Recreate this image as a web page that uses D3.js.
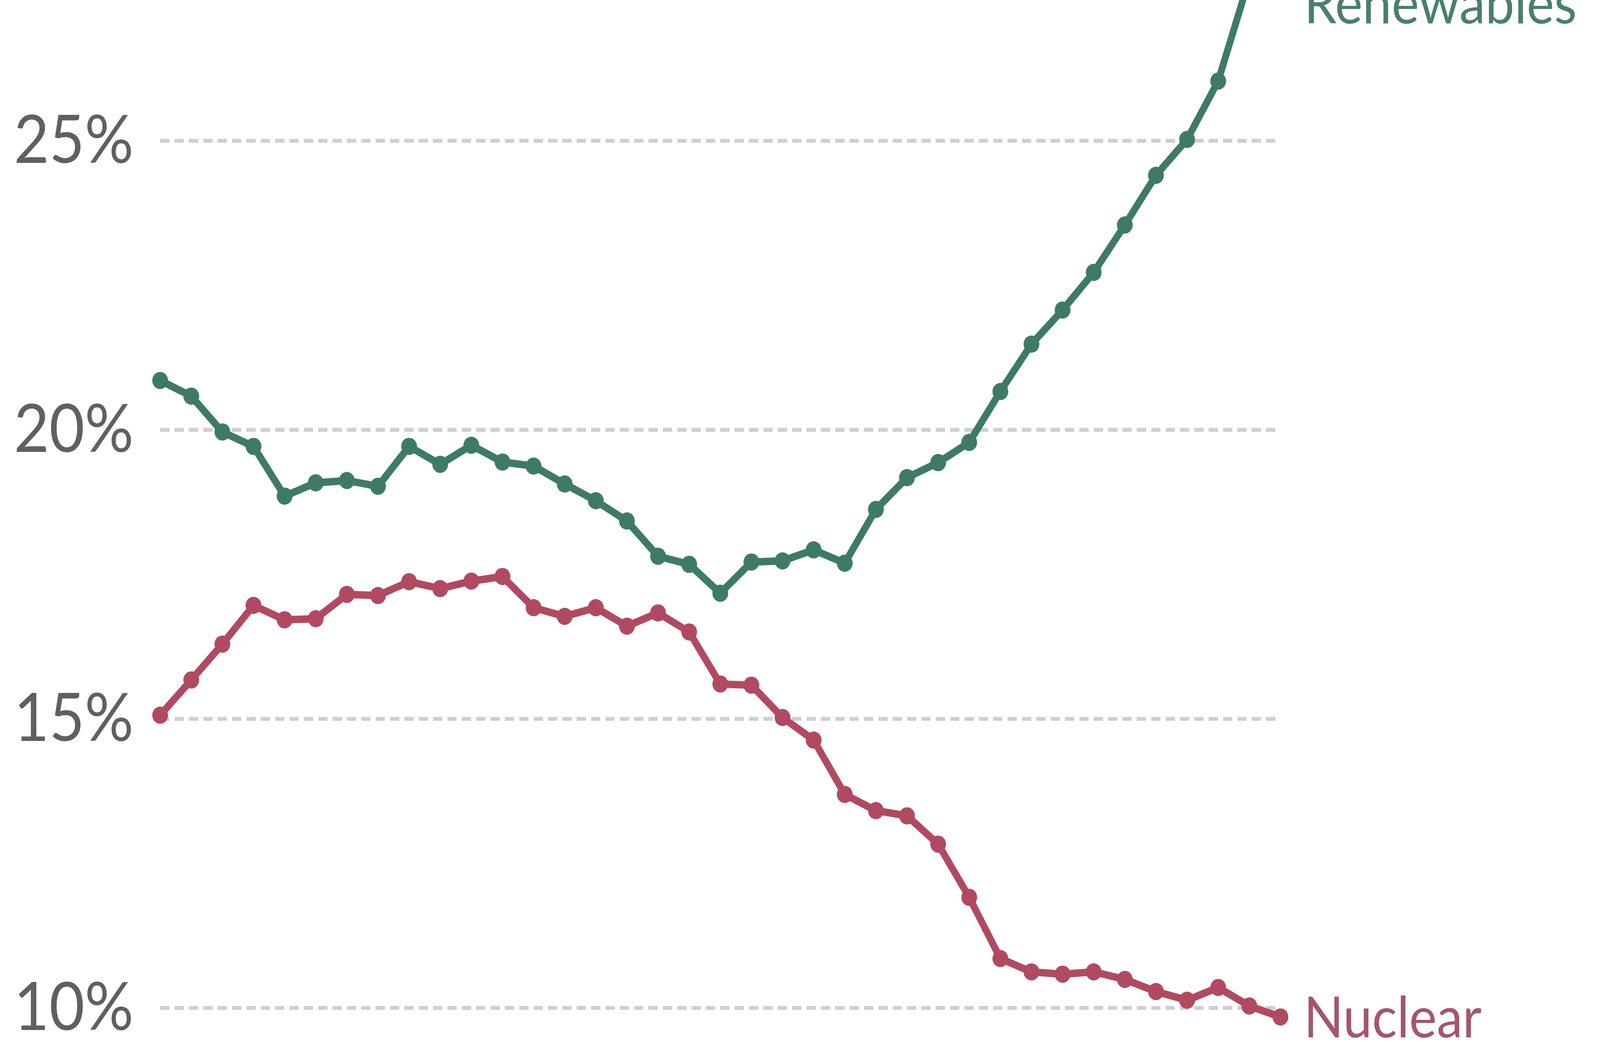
<!DOCTYPE html>
<html>
<head>
<meta charset="utf-8">
<script src="https://cdn.jsdelivr.net/npm/d3@7"></script>
<style>
  html, body { margin: 0; padding: 0; background: #ffffff; overflow: hidden; }
  svg { display: block; }
</style>
</head>
<body>
<svg id="chart"></svg>
<script>
// ---- data ----
const years = [1985,1986,1987,1988,1989,1990,1991,1992,1993,1994,1995,1996,1997,1998,1999,2000,2001,2002,2003,2004,2005,2006,2007,2008,2009,2010,2011,2012,2013,2014,2015,2016,2017,2018,2019,2020,2021];
const renewables = [20.85,20.58,19.96,19.71,18.85,19.08,19.12,19.02,19.71,19.40,19.73,19.44,19.37,19.06,18.77,18.42,17.81,17.67,17.17,17.71,17.73,17.92,17.69,18.62,19.17,19.43,19.78,20.66,21.48,22.07,22.72,23.54,24.40,25.02,26.03,27.80,28.20];
const nuclear = [15.06,15.67,16.29,16.96,16.71,16.73,17.15,17.13,17.37,17.25,17.38,17.46,16.92,16.77,16.92,16.60,16.83,16.50,15.60,15.58,15.02,14.63,13.69,13.41,13.32,12.83,11.91,10.85,10.62,10.58,10.62,10.49,10.28,10.13,10.35,10.03,9.84];
const yTicks = [10, 15, 20, 25];
const seriesNames = ["Renewables", "Nuclear"];

// ---- layout (drawn in a 4456x2678 frame, fitted to the window) ----
const W = 4456, H = 2678;
const x0 = 446, x1 = 3566;
const svg = d3.select("#chart")
  .attr("width", window.innerWidth || W)
  .attr("height", window.innerHeight || H)
  .attr("viewBox", `0 0 ${W} ${H}`)
  .attr("preserveAspectRatio", "none");

const x = d3.scaleLinear().domain([d3.min(years), d3.max(years)]).range([x0, x1]);
const y = d3.scaleLinear().domain([10, 25]).range([2580, 360]);

const colors = { Renewables: "#3e7b64", Nuclear: "#b14a61" };
const labelColors = { Renewables: "#4a7f6b", Nuclear: "#a4566a" };

// ---- y axis with dashed gridlines ----
const axis = d3.axisLeft(y)
  .tickValues(yTicks)
  .tickFormat(d => d + "%")
  .tickSizeInner(-(x1 - x0))
  .tickSizeOuter(0)
  .tickPadding(74);

const gAxis = svg.append("g")
  .attr("transform", `translate(${x0},0)`)
  .call(axis);
gAxis.select(".domain").remove();
gAxis.selectAll(".tick line")
  .attr("stroke", "#cfcfcf")
  .attr("stroke-width", 10)
  .attr("stroke-dasharray", "26,14");
gAxis.selectAll(".tick text")
  .attr("fill", "#606060")
  .attr("font-family", "Lato, 'Open Sans', sans-serif")
  .attr("font-size", 170)
  .attr("dy", "0.33em");

// ---- lines with point markers ----
const series = [
  { name: "Renewables", values: renewables },
  { name: "Nuclear", values: nuclear }
];

const line = d3.line()
  .x((d, i) => x(years[i]))
  .y(d => y(d));

const gSeries = svg.append("g");
series.forEach(s => {
  const g = gSeries.append("g");
  g.append("path")
    .datum(s.values)
    .attr("fill", "none")
    .attr("stroke", colors[s.name])
    .attr("stroke-width", 19)
    .attr("stroke-linejoin", "round")
    .attr("stroke-linecap", "round")
    .attr("d", line);
  g.selectAll("circle")
    .data(s.values)
    .join("circle")
    .attr("cx", (d, i) => x(years[i]))
    .attr("cy", d => y(d))
    .attr("r", 22)
    .attr("fill", colors[s.name]);
});

// ---- end labels ----
const labelFont = "Lato, 'Open Sans', sans-serif";
svg.append("text")
  .attr("x", x(years[years.length - 1]) + 65)
  .attr("y", y(nuclear[nuclear.length - 1]))
  .attr("dy", "0.36em")
  .attr("fill", labelColors.Nuclear)
  .attr("font-family", labelFont)
  .attr("font-size", 145)
  .text(seriesNames[1]);

// Renewables label held at the top edge (its last points run above the frame)
svg.append("text")
  .attr("x", x(years[years.length - 1]) + 66)
  .attr("y", Math.max(y(renewables[renewables.length - 1]), 8))
  .attr("dy", "0.36em")
  .attr("fill", labelColors.Renewables)
  .attr("font-family", labelFont)
  .attr("font-size", 145)
  .text(seriesNames[0]);
</script>
</body>
</html>
